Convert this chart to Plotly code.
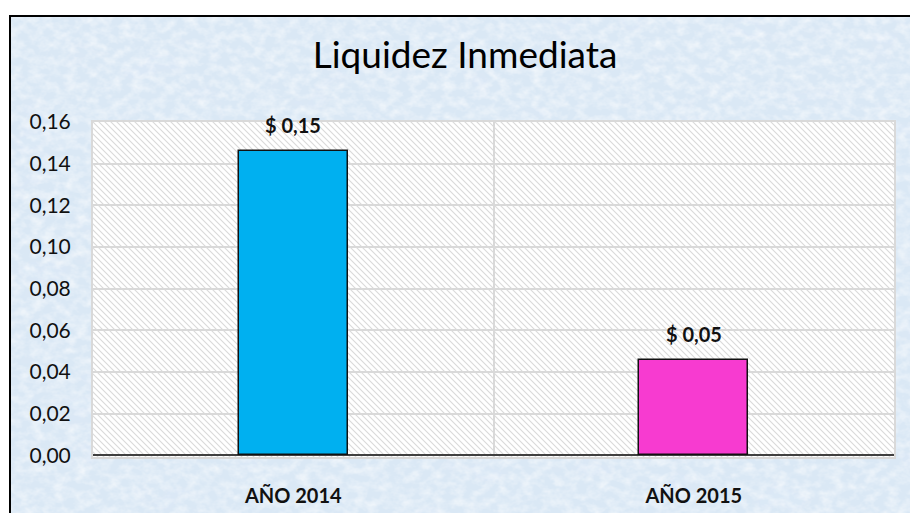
import base64
import plotly.graph_objects as go

# Chart data
categories = ["AÑO 2014", "AÑO 2015"]
values = [0.146, 0.046]
bar_colors = ["#00B0F0", "#F73BD0"]
y_ticks = [0.00, 0.02, 0.04, 0.06, 0.08, 0.10, 0.12, 0.14, 0.16]

W, H = 910, 513
L, R, T, B = 93, 16, 122, 56
PW, PH = W - L - R, H - T - B
FONT = "Lato, Open Sans, sans-serif"


def px_x(px):
    return (px - L) / PW


def px_y(py):
    return (H - B - py) / PH


def svg_uri(svg):
    return "data:image/svg+xml;base64," + base64.b64encode(svg.encode()).decode()


# Mottled light-blue backdrop for the chart frame
frame_w, frame_h = 900, 497
backdrop = f"""<svg xmlns='http://www.w3.org/2000/svg' width='{frame_w}' height='{frame_h}'
 viewBox='0 0 {frame_w} {frame_h}' preserveAspectRatio='none'>
<defs>
<filter id='n' x='0' y='0' width='100%' height='100%'>
<feTurbulence type='fractalNoise' baseFrequency='0.09 0.12' numOctaves='3' seed='7'/>
<feColorMatrix type='matrix' values='0 0 0 0 1  0 0 0 0 1  0 0 0 0 1  1.1 0 0 0 -0.40'/>
</filter>
<filter id='d' x='0' y='0' width='100%' height='100%'>
<feTurbulence type='fractalNoise' baseFrequency='0.02 0.03' numOctaves='3' seed='3'/>
<feColorMatrix type='matrix' values='0 0 0 0 0.72  0 0 0 0 0.82  0 0 0 0 0.93  0 0.9 0 0 -0.40'/>
</filter>
</defs>
<rect width='100%' height='100%' fill='#DAE8F5'/>
<rect width='100%' height='100%' filter='url(#d)'/>
<rect width='100%' height='100%' filter='url(#n)'/>
</svg>"""

# Diagonal hatch for the plotting area
hatch = f"""<svg xmlns='http://www.w3.org/2000/svg' width='{PW}' height='{PH}'
 viewBox='0 0 {PW} {PH}' preserveAspectRatio='none'>
<defs>
<pattern id='h' width='6' height='6' patternUnits='userSpaceOnUse'>
<rect width='6' height='6' fill='#FFFFFF'/>
<path d='M-1,-1 L7,7 M-1,5 L1,7 M5,-1 L7,1' stroke='#DADADA' stroke-width='1.1'/>
</pattern>
</defs>
<rect width='100%' height='100%' fill='url(#h)'/>
</svg>"""

fig = go.Figure()
fig.add_trace(go.Bar(
    x=categories,
    y=values,
    width=0.272,
    marker=dict(color=bar_colors, line=dict(color="#111111", width=1.5)),
    hoverinfo="skip",
))

# Value labels above each bar
annotations = []
for cat, v in zip(categories, values):
    annotations.append(dict(
        x=cat, y=v, xref="x", yref="y",
        text="<b>$ " + f"{v:.2f}".replace(".", ",") + "</b>",
        showarrow=False, yanchor="bottom", yshift=12,
        font=dict(family=FONT, size=20, color="#111111"),
    ))

fig.update_layout(
    width=W, height=H,
    margin=dict(l=L, r=R, t=T, b=B),
    paper_bgcolor="#FFFFFF",
    plot_bgcolor="rgba(0,0,0,0)",
    separators=",.",
    showlegend=False,
    bargap=0,
    title=dict(
        text="Liquidez Inmediata",
        x=465 / W, xref="container", xanchor="center",
        y=1 - 55 / H, yref="container", yanchor="middle",
        font=dict(family=FONT, size=37, color="#000000"),
    ),
    xaxis=dict(
        type="category",
        automargin=False,
        tickson="boundaries",
        showgrid=True, gridcolor="#D9D9D9", gridwidth=2,
        showline=True, linecolor="#D9D9D9", linewidth=2, mirror=True,
        ticks="", ticklabelstandoff=20,
        tickfont=dict(family=FONT, size=20, color="#111111", weight="bold"),
    ),
    yaxis=dict(
        automargin=False,
        range=[-0.0008, 0.16],
        tickvals=y_ticks,
        tickformat=".2f",
        showgrid=True, gridcolor="#D9D9D9", gridwidth=2,
        zeroline=True, zerolinecolor="#404040", zerolinewidth=2,
        showline=True, linecolor="#D9D9D9", linewidth=2, mirror=True,
        ticks="", ticklabelstandoff=16,
        tickfont=dict(family=FONT, size=21, color="#111111"),
    ),
    annotations=annotations,
    images=[
        dict(source=svg_uri(backdrop), xref="paper", yref="paper",
             x=px_x(10), y=px_y(16), sizex=frame_w / PW, sizey=frame_h / PH,
             xanchor="left", yanchor="top", sizing="stretch", layer="below"),
        dict(source=svg_uri(hatch), xref="paper", yref="paper",
             x=0, y=1, sizex=1, sizey=1,
             xanchor="left", yanchor="top", sizing="stretch", layer="below"),
    ],
    shapes=[
        dict(type="rect", xref="paper", yref="paper",
             x0=px_x(10), y0=px_y(16), x1=px_x(W + 10), y1=px_y(H + 10),
             line=dict(color="#000000", width=2), fillcolor="rgba(0,0,0,0)",
             layer="above"),
    ],
)

fig.write_html("out.html")
